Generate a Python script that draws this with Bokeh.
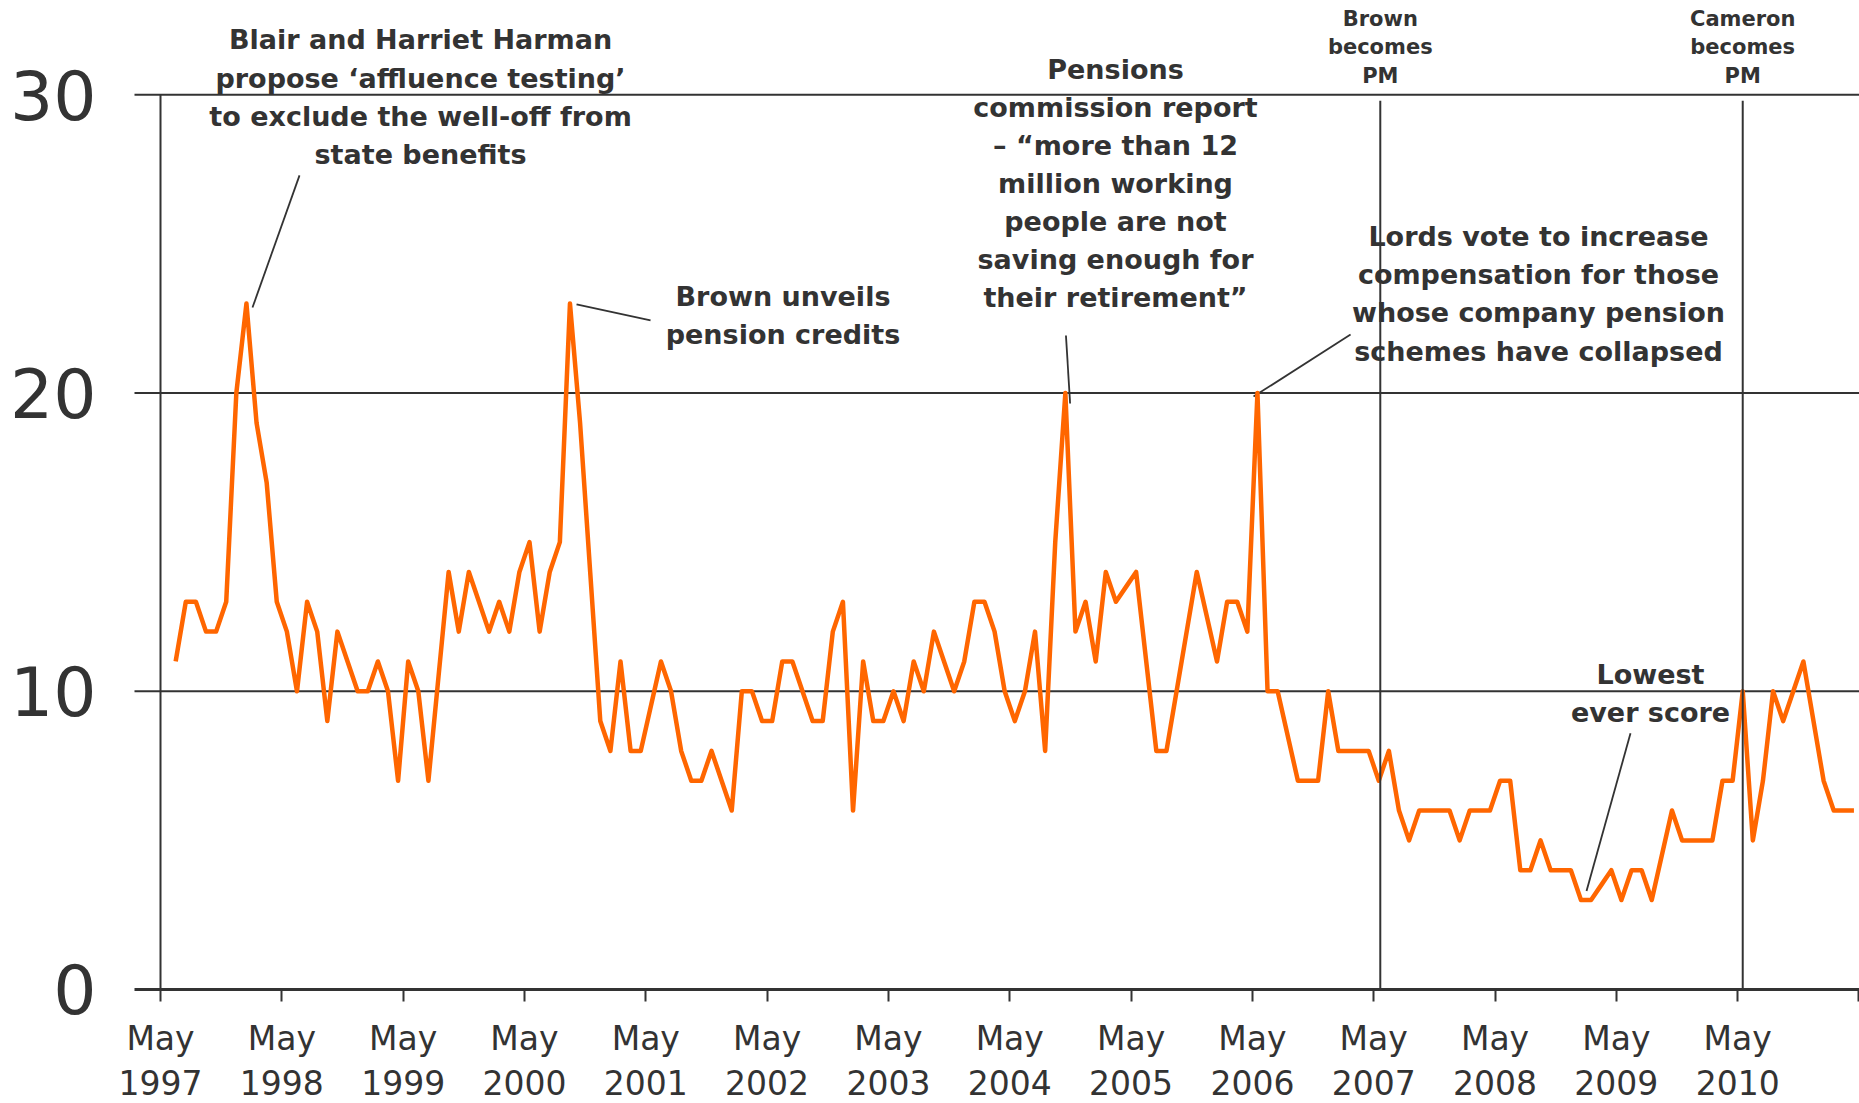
from bokeh.plotting import figure
from bokeh.models import Range1d, FixedTicker
from bokeh.core.properties import value
from bokeh.embed import file_html
from bokeh.resources import INLINE

# ---------------- data ----------------
# Monthly score (%), first observation June 1997, plotted mid-month.
scores = [11, 13, 13, 12, 12, 13, 20, 23, 19, 17,
          13, 12, 10, 13, 12, 9, 12, 11, 10, 10,
          11, 10, 7, 11, 10, 7, 10.5, 14, 12, 14,
          13, 12, 13, 12, 14, 15, 12, 14, 15, 23,
          19, 14, 9, 8, 11, 8, 8, 9.5, 11, 10,
          8, 7, 7, 8, 7, 6, 10, 10, 9, 9,
          11, 11, 10, 9, 9, 12, 13, 6, 11, 9,
          9, 10, 9, 11, 10, 12, 11, 10, 11, 13,
          13, 12, 10, 9, 10, 12, 8, 15, 20, 12,
          13, 11, 14, 13, 13.5, 14, 11, 8, 8, 10,
          12, 14, 12.5, 11, 13, 13, 12, 20, 10, 10,
          8.5, 7, 7, 7, 10, 8, 8, 8, 8, 7,
          8, 6, 5, 6, 6, 6, 6, 5, 6, 6,
          6, 7, 7, 4, 4, 5, 4, 4, 4, 3,
          3, 3.5, 4, 3, 4, 4, 3, 4.5, 6, 5,
          5, 5, 5, 7, 7, 10, 5, 7, 10, 9,
          10, 11, 9, 7, 6, 6, 6]
first_obs = 1.5          # months after 1 May 1997 (mid-June 1997)
obs_month = [first_obs + i for i in range(len(scores))]

tick_years = list(range(1997, 2012))
tick_months = [12 * (y - 1997) for y in tick_years]
tick_labels = {12 * (y - 1997): ("May\n%d" % y if y <= 2010 else "") for y in tick_years}
y_ticks = [0, 10, 20, 30]

# events marked with vertical lines (months after 1 May 1997)
pm_events = ["Brown\nbecomes\nPM", "Cameron\nbecomes\nPM"]
pm_month = [120.65, 156.5]

# annotation blocks: (centre month, [baseline values], lines)
notes = [
    (25.72, [31.49, 30.20, 28.92, 27.63],
     ["Blair and Harriet Harman", "propose \u2018affluence testing\u2019",
      "to exclude the well-off from", "state benefits"]),
    (61.57, [22.88, 21.60], ["Brown unveils", "pension credits"]),
    (94.46, [30.48, 29.21, 27.93, 26.66, 25.39, 24.11, 22.84],
     ["Pensions", "commission report", "\u2013 \u201cmore than 12", "million working",
      "people are not", "saving enough for", "their retirement\u201d"]),
    (136.3, [24.90, 23.62, 22.33, 21.05],
     ["Lords vote to increase", "compensation for those",
      "whose company pension", "schemes have collapsed"]),
    (147.38, [10.20, 8.94], ["Lowest", "ever score"]),
]
# leader lines (month, value) -> (month, value)
leaders = [
    (13.75, 27.30, 9.10, 22.87),
    (41.15, 22.97, 48.47, 22.44),
    (89.56, 21.93, 89.97, 19.65),
    (117.71, 21.96, 108.11, 19.88),
    (145.4, 8.59, 141.05, 3.30),
]
pm_label_y = [32.32, 31.36, 30.39]

INK = "#333333"
ORANGE = "#FF6600"
TXT_SHIFT = 0.355   # baseline correction (value units)
X_LO, X_HI = -2.572, 168.05   # extent of axis / grid lines

p = figure(width=1859, height=1103,
           x_range=Range1d(-15.826, X_HI), y_range=Range1d(-3.8226, 33.162),
           output_backend="svg", toolbar_location=None,
           min_border_left=0, min_border_right=0, min_border_top=0,
           min_border_bottom=0)
p.outline_line_color = None
p.background_fill_color = "white"
p.border_fill_color = "white"
p.xgrid.grid_line_color = None
p.ygrid.grid_line_color = None

# x axis drawn at value 0
p.xaxis.fixed_location = 0
p.xaxis.bounds = (X_LO, X_HI)
p.xaxis.ticker = FixedTicker(ticks=tick_months)
p.xaxis.major_label_overrides = tick_labels
p.xaxis.axis_line_color = INK
p.xaxis.axis_line_width = 3
p.xaxis.major_tick_line_color = INK
p.xaxis.major_tick_line_width = 2
p.xaxis.major_tick_out = 12
p.xaxis.major_tick_in = 0
p.xaxis.minor_tick_line_color = None
p.xaxis.major_label_text_font = "DejaVu Sans"
p.xaxis.major_label_text_font_size = "33px"
p.xaxis.major_label_text_color = INK
p.xaxis.major_label_text_line_height = 1.15
p.xaxis.major_label_standoff = 18

# y axis labels left of the grid lines
p.yaxis.fixed_location = X_LO
p.yaxis.ticker = FixedTicker(ticks=y_ticks)
p.yaxis.axis_line_color = None
p.yaxis.major_tick_line_color = None
p.yaxis.minor_tick_line_color = None
p.yaxis.major_tick_out = 0
p.yaxis.major_tick_in = 0
p.yaxis.major_label_text_font = "DejaVu Sans"
p.yaxis.major_label_text_font_size = "68px"
p.yaxis.major_label_text_color = INK
p.yaxis.major_label_standoff = 38

# horizontal grid lines at 10, 20, 30
gy = [t for t in y_ticks if t > 0]
p.segment(x0=[X_LO] * len(gy), y0=gy, x1=[X_HI] * len(gy), y1=gy,
          line_color=INK, line_width=2)

# y axis line from 0 to 30 only
p.segment(x0=[0], y0=[0], x1=[0], y1=[y_ticks[-1]], line_color=INK, line_width=2)

# leader lines
p.segment(x0=[l[0] for l in leaders], y0=[l[1] for l in leaders],
          x1=[l[2] for l in leaders], y1=[l[3] for l in leaders],
          line_color=INK, line_width=1.8)

# data line
p.line(obs_month, scores, line_color=ORANGE, line_width=4.5, line_join="round")

# annotation texts
tx, ty, tt = [], [], []
for cx, ys, lines in notes:
    for yv, ln in zip(ys, lines):
        tx.append(cx); ty.append(yv + TXT_SHIFT); tt.append(ln)
p.text(x=tx, y=ty, text=tt, text_align="center", text_baseline="alphabetic",
       text_font=value("DejaVu Sans"), text_font_style="bold",
       text_font_size="27px", text_color=INK)

px_, py_, pt_ = [], [], []
for m, lbl in zip(pm_month, pm_events):
    for yv, ln in zip(pm_label_y, lbl.split("\n")):
        px_.append(m); py_.append(yv + 0.23); pt_.append(ln)
p.text(x=px_, y=py_, text=pt_, text_align="center", text_baseline="alphabetic",
       text_font=value("DejaVu Sans"), text_font_style="bold",
       text_font_size="21px", text_color=INK)

# PM vertical lines
p.segment(x0=pm_month, y0=[0] * len(pm_month), x1=pm_month, y1=[29.8] * len(pm_month),
          line_color=INK, line_width=2)

open("out.html", "w").write(file_html(p, INLINE))
